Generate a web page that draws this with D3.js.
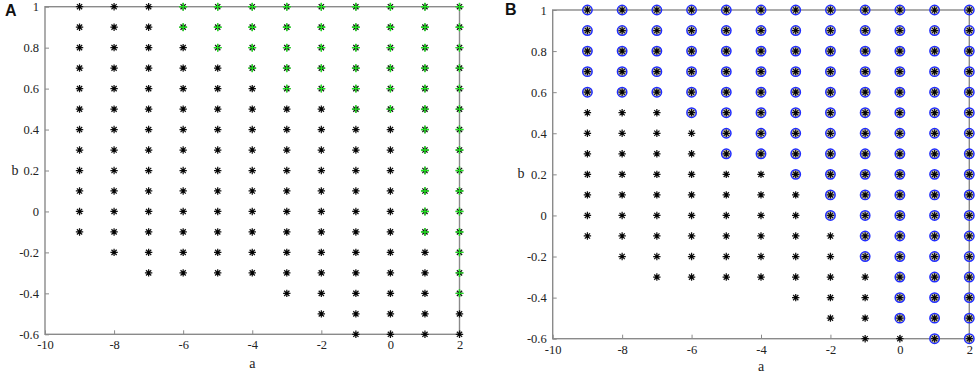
<!DOCTYPE html>
<html><head><meta charset="utf-8">
<script src="https://cdn.jsdelivr.net/npm/d3@7"></script>
<style>
html,body{margin:0;padding:0;background:#fff;}
svg{display:block;}
</style></head>
<body>
<svg id="chart" width="976" height="376"></svg>
<script>
// ---- data ----
const aCats = [-9,-8,-7,-6,-5,-4,-3,-2,-1,0,1,2];
const bLevels = [1,0.9,0.8,0.7,0.6,0.5,0.4,0.3,0.2,0.1,0,-0.1,-0.2,-0.3,-0.4,-0.5,-0.6];
// smallest a that has a point, per b level (all rows end at a = 2)
const rowStart = [-9,-9,-9,-9,-9,-9,-9,-9,-9,-9,-9,-9,-8,-7,-3,-2,-1];
// panel A: smallest a marked green per b level (null = none)
const greenStartA = [-6,-6,-5,-4,-3,-1,1,1,1,1,1,1,2,2,2,null,null];
// panel B: smallest a circled per b level
const circleStartB = [-9,-9,-9,-9,-9,-6,-5,-5,-3,-2,-2,-1,-1,0,0,0,1];
const xTicks = [-10,-8,-6,-4,-2,0,2];
const xTickLabels = ["-10","-8","-6","-4","-2","0","2"];
const yTicks = [-0.6,-0.4,-0.2,0,0.2,0.4,0.6,0.8,1];
const yTickLabels = ["-0.6","-0.4","-0.2","0","0.2","0.4","0.6","0.8","1"];
const xDomain = [-10,2];
const yDomain = [-0.6,1];

const svg = d3.select("#chart");
const gray = "#8a8a8a";
const serif = "'Liberation Serif','Times New Roman',serif";

function pts(markStart){
  const out = [];
  bLevels.forEach((b,i)=>{
    aCats.forEach(a=>{
      if(a >= rowStart[i]){
        const m = markStart[i];
        out.push({a,b,marked: m!==null && a>=m});
      }
    });
  });
  return out;
}

function asterisk(r){
  const d = r*Math.SQRT1_2;
  return `M${-r},0L${r},0M0,${-r}L0,${r}M${-d},${-d}L${d},${d}M${-d},${d}L${d},${-d}`;
}
function plus(r){ return `M${-r},0L${r},0M0,${-r}L0,${r}`; }

function panel(cfg){
  const g = svg.append("g");
  const x = d3.scaleLinear().domain(xDomain).range([cfg.x0,cfg.x1]);
  const y = d3.scaleLinear().domain(yDomain).range([cfg.y1,cfg.y0]);

  const xa = g.append("g").attr("transform",`translate(0,${cfg.y1})`)
    .call(d3.axisBottom(x).tickValues(xTicks).tickSize(-4).tickSizeOuter(0).tickPadding(6).tickFormat((d,i)=>xTickLabels[i]));
  const ya = g.append("g").attr("transform",`translate(${cfg.x0},0)`)
    .call(d3.axisLeft(y).tickValues(yTicks).tickSize(-4).tickSizeOuter(0).tickPadding(6).tickFormat((d,i)=>yTickLabels[i]));
  [xa,ya].forEach(ax=>{
    ax.select(".domain").remove();
    ax.selectAll("line").attr("stroke",gray);
    ax.selectAll("text").attr("font-family",serif).attr("font-size",12.5).attr("fill","#222");
  });

  g.append("rect").attr("x",cfg.x0).attr("y",cfg.y0)
    .attr("width",cfg.x1-cfg.x0).attr("height",cfg.y1-cfg.y0)
    .attr("fill","none").attr("stroke",gray).attr("stroke-width",1.4);

  const data = pts(cfg.markStart);
  const m = g.append("g");
  if(cfg.type==="circle"){
    m.selectAll("circle.mk").data(data.filter(d=>d.marked)).join("circle")
      .attr("class","mk").attr("cx",d=>x(d.a)).attr("cy",d=>y(d.b)).attr("r",4.7)
      .attr("fill","#cfcab0").attr("stroke","#1f2bff").attr("stroke-width",1.5);
  }
  m.selectAll("path.ast").data(data).join("path")
    .attr("class","ast")
    .attr("transform",d=>`translate(${x(d.a)},${y(d.b)})`)
    .attr("d",asterisk(3.7)).attr("stroke","#111").attr("stroke-width",1.25).attr("fill","none");
  m.selectAll("circle.ctr").data(data).join("circle")
    .attr("class","ctr").attr("cx",d=>x(d.a)).attr("cy",d=>y(d.b)).attr("r",1.3).attr("fill","#000");
  if(cfg.type==="plus"){
    m.selectAll("path.pl").data(data.filter(d=>d.marked)).join("path")
      .attr("class","pl")
      .attr("transform",d=>`translate(${x(d.a)},${y(d.b)})`)
      .attr("d",plus(4)).attr("stroke","#22e022").attr("stroke-width",1.4).attr("fill","none");
  }

  g.append("text").attr("x",(cfg.x0+cfg.x1)/2).attr("y",cfg.y1+cfg.ay)
    .attr("text-anchor","middle").attr("font-family",serif).attr("font-size",14).attr("fill","#222").text("a");
  g.append("text").attr("x",cfg.bx).attr("y",(cfg.y0+cfg.y1)/2+4)
    .attr("text-anchor","middle").attr("font-family",serif).attr("font-size",14).attr("fill","#222").text("b");
  g.append("text").attr("x",cfg.lx).attr("y",cfg.ly)
    .attr("font-family","'Liberation Sans',Arial,sans-serif").attr("font-weight","bold")
    .attr("font-size",16).attr("fill","#111").text(cfg.letter);
}

panel({x0:45,x1:459.5,y0:6.7,y1:334.3,markStart:greenStartA,type:"plus",bx:15,lx:5,ly:16,letter:"A",ay:34});
panel({x0:552.7,x1:969.3,y0:10,y1:338.7,markStart:circleStartB,type:"circle",bx:521,lx:505,ly:15,letter:"B",ay:32});
</script>
</body></html>
